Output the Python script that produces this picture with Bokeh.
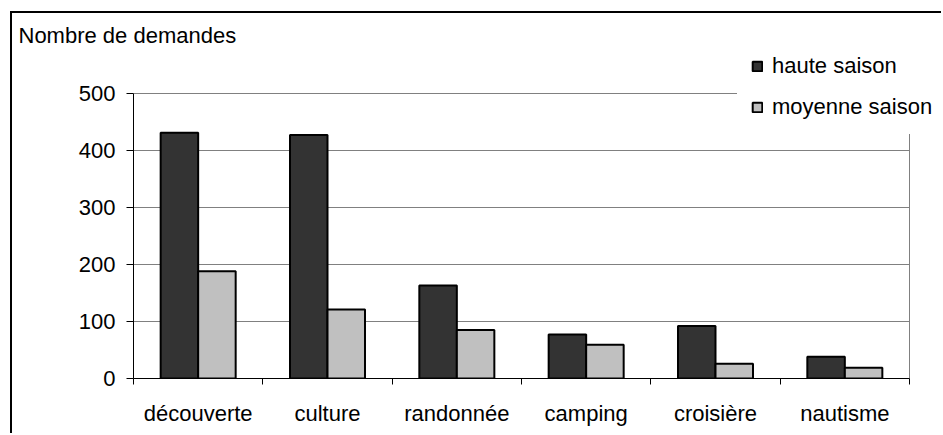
import numpy as np
from bokeh.plotting import figure
from bokeh.models import Range1d, FixedTicker, Legend, LegendItem, Title
from bokeh.embed import file_html
from bokeh.resources import INLINE

categories = ["découverte", "culture", "randonnée", "camping", "croisière", "nautisme"]
haute_saison = [431, 427, 163, 77, 92, 38]
moyenne_saison = [188, 121, 85, 59, 26, 19]
y_ticks = [0, 100, 200, 300, 400, 500]
y_title = "Nombre de demandes"
series_names = ["haute saison", "moyenne saison"]

FONT = "Liberation Sans"
FS = "22px"
GRID = "#808080"
bw = 0.29

n = len(categories)
ymax = max(y_ticks)
idx = np.arange(n)
x_h = idx + 0.5 - bw / 2
x_m = idx + 0.5 + bw / 2

# layout (pixels): plot area 776 px wide inside a 810 px frame, 285 px tall inside a 330 px frame
x_end = n * 810 / 776
y_end = ymax * 330 / 285

p = figure(width=931, height=422, output_backend="svg", toolbar_location=None,
           title=None, x_range=Range1d(0, x_end), y_range=Range1d(0, y_end),
           min_border_left=121, min_border_right=0, min_border_top=35, min_border_bottom=57)
p.styles = {"margin-left": "10px", "margin-top": "11px",
            "border-left": "2px solid black", "border-top": "2px solid black"}
p.outline_line_color = None
p.xgrid.grid_line_color = None
p.ygrid.grid_line_color = None

# plot-area grid lines and right edge
p.segment(x0=[0] * len(y_ticks), x1=[n] * len(y_ticks), y0=y_ticks, y1=y_ticks,
          line_color=GRID, line_width=1)
p.segment(x0=[n], x1=[n], y0=[0], y1=[ymax], line_color=GRID, line_width=1)

r1 = p.vbar(x=x_h, top=haute_saison, width=bw, fill_color="#333333", line_color="black", line_width=2)
r2 = p.vbar(x=x_m, top=moyenne_saison, width=bw, fill_color="#C0C0C0", line_color="black", line_width=2)

# y axis
p.yaxis.bounds = (0, ymax)
p.yaxis.ticker = FixedTicker(ticks=y_ticks, minor_ticks=[])
p.yaxis.axis_line_color = "black"
p.yaxis.major_tick_line_color = "black"
p.yaxis.major_tick_in = 0
p.yaxis.major_tick_out = 7
p.yaxis.minor_tick_line_color = None
p.yaxis.major_label_standoff = 11
p.yaxis.major_label_text_font = FONT
p.yaxis.major_label_text_font_size = FS
p.yaxis.major_label_text_color = "black"

# x axis: labels at centers, ticks between categories
p.xaxis.bounds = (0, n)
p.xaxis.ticker = FixedTicker(ticks=list(idx + 0.5), minor_ticks=list(range(n + 1)))
p.xaxis.major_label_overrides = {float(i + 0.5): c for i, c in enumerate(categories)}
p.xaxis.axis_line_color = "black"
p.xaxis.major_tick_line_color = None
p.xaxis.major_tick_in = 0
p.xaxis.major_tick_out = 0
p.xaxis.minor_tick_line_color = "black"
p.xaxis.minor_tick_in = 0
p.xaxis.minor_tick_out = 6
p.xaxis.major_label_standoff = 16
p.xaxis.major_label_text_font = FONT
p.xaxis.major_label_text_font_size = FS
p.xaxis.major_label_text_color = "black"

# title
t = Title(text=y_title, align="left", offset=-115, standoff=2, vertical_align="bottom",
          text_font=FONT, text_font_size=FS, text_font_style="normal", text_color="black")
p.add_layout(t, "above")

legend = Legend(items=[LegendItem(label=series_names[0], renderers=[r1]),
                       LegendItem(label=series_names[1], renderers=[r2])],
                location=(604, 244), orientation="vertical")
legend.background_fill_color = "white"
legend.background_fill_alpha = 1
legend.border_line_color = "white"
legend.border_line_alpha = 0
legend.label_text_font = FONT
legend.label_text_font_size = FS
legend.label_text_color = "black"
legend.glyph_width = 12
legend.glyph_height = 12
legend.label_standoff = 9
legend.padding = 14
legend.spacing = 15
legend.margin = 0
p.add_layout(legend)

open("out.html", "w").write(file_html(p, INLINE))
